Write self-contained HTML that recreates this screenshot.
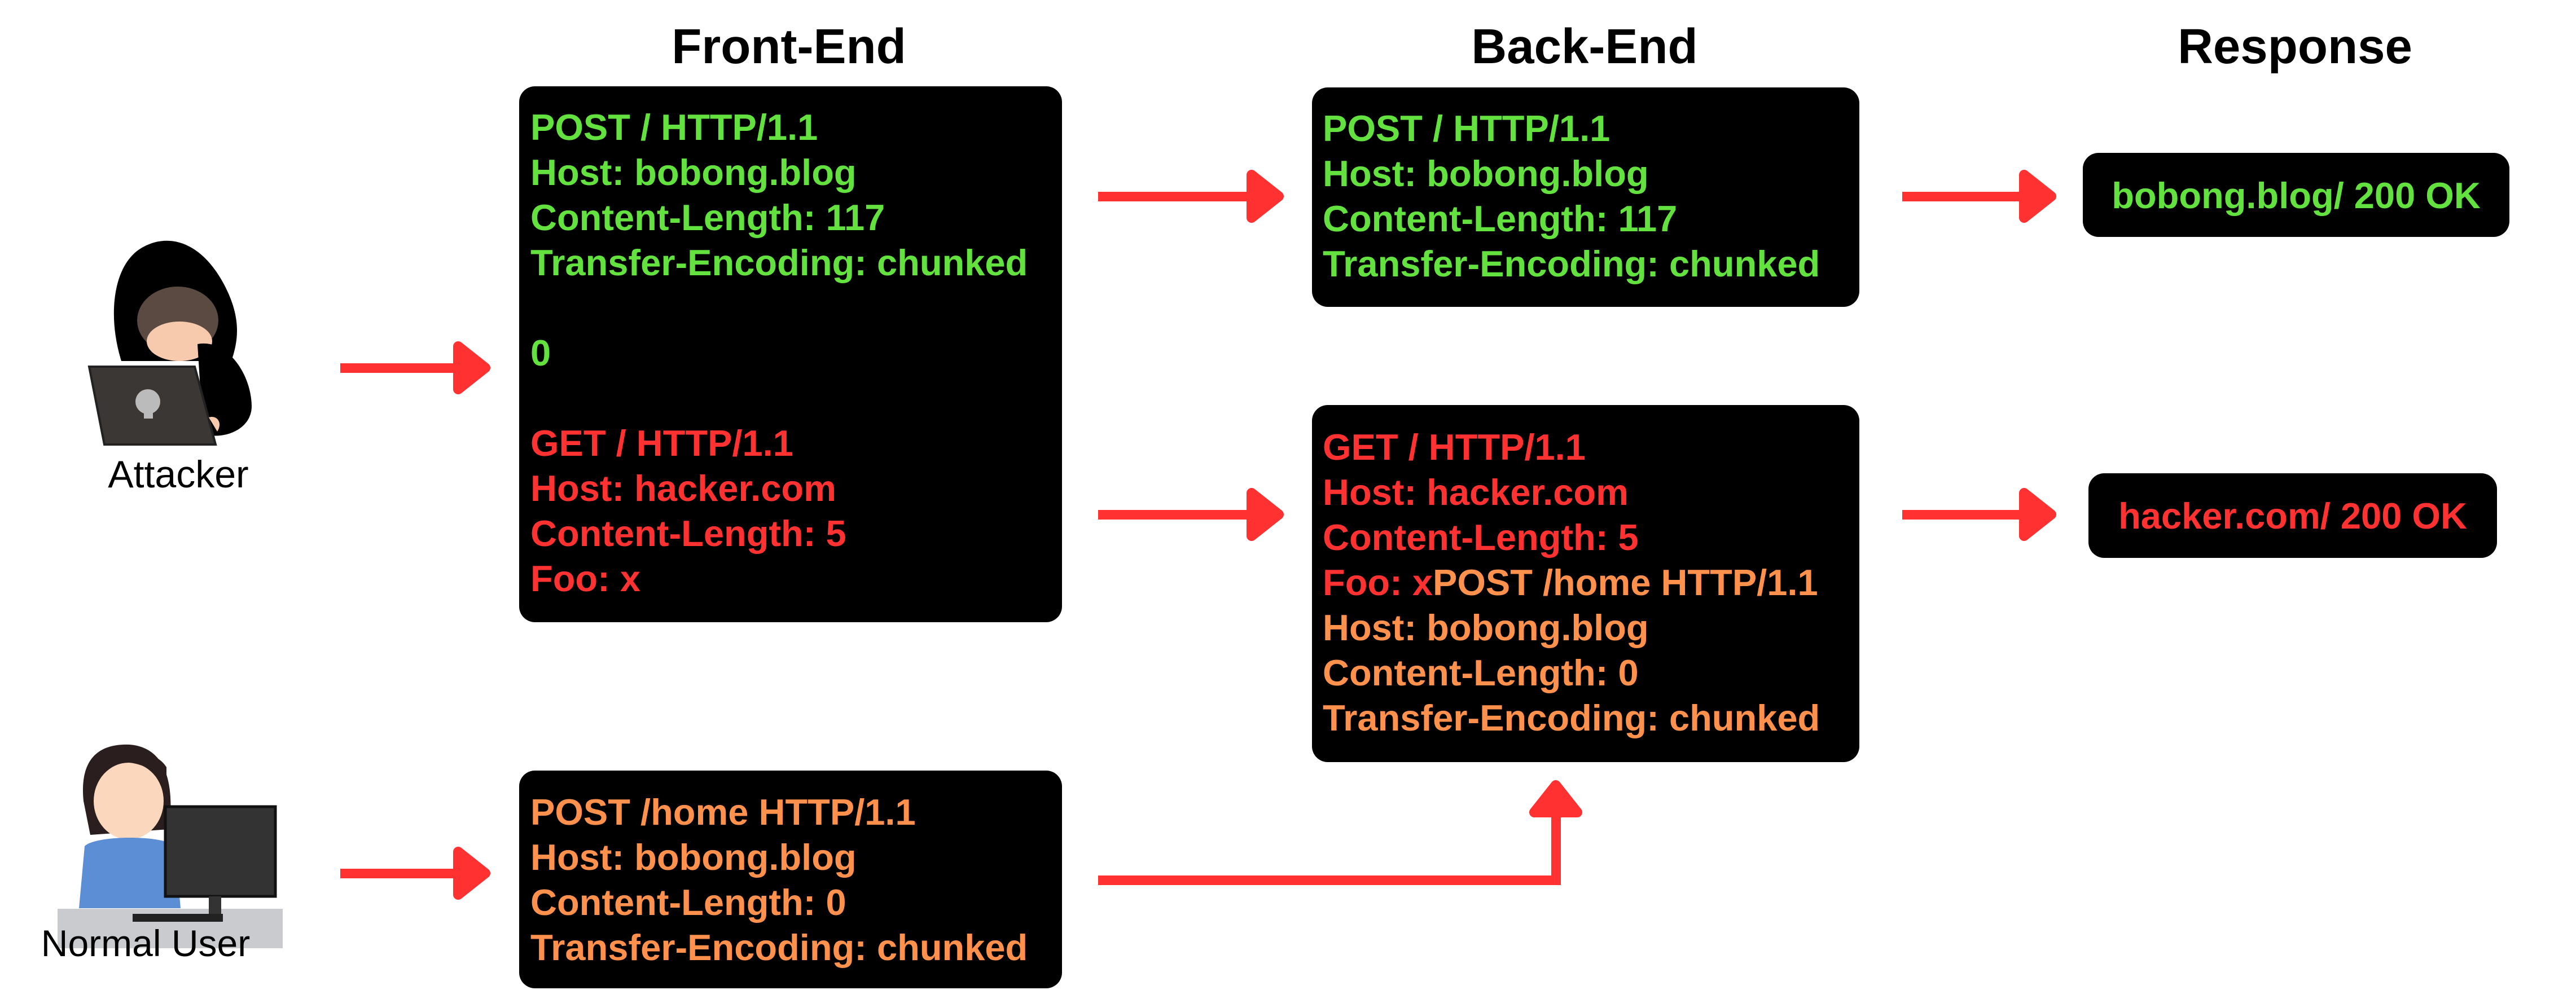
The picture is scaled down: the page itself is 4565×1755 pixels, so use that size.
<!DOCTYPE html>
<html><head><meta charset="utf-8"><style>
html,body{margin:0;padding:0;background:#fff;}
svg{display:block;}
text{font-family:"Liberation Sans",sans-serif;}
.t{font-weight:bold;font-size:65px;}
.g{fill:#63e23f}.r{fill:#ff3131}.o{fill:#ff914d}
.h{font-weight:bold;font-size:87px;fill:#000;text-anchor:middle}
</style></head><body>
<svg width="4565" height="1755" viewBox="0 0 4565 1755" xmlns="http://www.w3.org/2000/svg">
<defs>
<g id="ah"><polygon points="0,-38 48,0 0,38" fill="#ff3131" stroke="#ff3131" stroke-width="18" stroke-linejoin="round"/></g>
</defs>
<!-- titles -->
<text class="h" x="1398" y="112">Front-End</text>
<text class="h" x="2808" y="112">Back-End</text>
<text class="h" x="4067" y="112">Response</text>

<!-- front box 1 -->
<rect x="920" y="153" width="962" height="950" rx="28" fill="#000"/>
<g class="t">
<text class="g" x="940" y="248">POST / HTTP/1.1</text>
<text class="g" x="940" y="328">Host: bobong.blog</text>
<text class="g" x="940" y="408">Content-Length: 117</text>
<text class="g" x="940" y="488">Transfer-Encoding: chunked</text>
<text class="g" x="940" y="648">0</text>
<text class="r" x="940" y="808">GET / HTTP/1.1</text>
<text class="r" x="940" y="888">Host: hacker.com</text>
<text class="r" x="940" y="968">Content-Length: 5</text>
<text class="r" x="940" y="1048">Foo: x</text>
</g>
<!-- front box 2 -->
<rect x="920" y="1366" width="962" height="386" rx="28" fill="#000"/>
<g class="t">
<text class="o" x="940" y="1462">POST /home HTTP/1.1</text>
<text class="o" x="940" y="1542">Host: bobong.blog</text>
<text class="o" x="940" y="1622">Content-Length: 0</text>
<text class="o" x="940" y="1702">Transfer-Encoding: chunked</text>
</g>
<!-- back box 1 -->
<rect x="2325" y="155" width="970" height="389" rx="28" fill="#000"/>
<g class="t">
<text class="g" x="2344" y="250">POST / HTTP/1.1</text>
<text class="g" x="2344" y="330">Host: bobong.blog</text>
<text class="g" x="2344" y="410">Content-Length: 117</text>
<text class="g" x="2344" y="490">Transfer-Encoding: chunked</text>
</g>
<!-- back box 2 -->
<rect x="2325" y="718" width="970" height="633" rx="28" fill="#000"/>
<g class="t">
<text class="r" x="2344" y="815">GET / HTTP/1.1</text>
<text class="r" x="2344" y="895">Host: hacker.com</text>
<text class="r" x="2344" y="975">Content-Length: 5</text>
<text x="2344" y="1055"><tspan class="r">Foo: x</tspan><tspan class="o">POST /home HTTP/1.1</tspan></text>
<text class="o" x="2344" y="1135">Host: bobong.blog</text>
<text class="o" x="2344" y="1215">Content-Length: 0</text>
<text class="o" x="2344" y="1295">Transfer-Encoding: chunked</text>
</g>
<!-- responses -->
<rect x="3691" y="271" width="756" height="149" rx="28" fill="#000"/>
<text class="t g" x="4069" y="369" text-anchor="middle">bobong.blog/ 200 OK</text>
<rect x="3701" y="839" width="724" height="150" rx="28" fill="#000"/>
<text class="t r" x="4063" y="937" text-anchor="middle">hacker.com/ 200 OK</text>

<!-- arrows -->
<g fill="#ff3131">
<rect x="603" y="644" width="210" height="17"/><use href="#ah" x="812" y="652"/>
<rect x="603" y="1540" width="210" height="17"/><use href="#ah" x="812" y="1548"/>
<rect x="1946" y="340" width="280" height="17"/><use href="#ah" x="2218" y="348"/>
<rect x="1946" y="904" width="280" height="17"/><use href="#ah" x="2218" y="912"/>
<rect x="3371" y="340" width="220" height="17"/><use href="#ah" x="3587" y="348"/>
<rect x="3371" y="904" width="220" height="17"/><use href="#ah" x="3587" y="912"/>
<rect x="1946" y="1552" width="820" height="17"/>
<rect x="2749" y="1440" width="17" height="129"/>
<use href="#ah" transform="translate(2757,1440) rotate(-90)"/>
</g>

<!-- attacker icon -->
<g>
<path d="M215,640 C190,560 200,470 250,440 C300,410 360,430 400,510 C430,570 420,610 410,640 Z" fill="#000"/>
<ellipse cx="315" cy="568" rx="72" ry="60" fill="#5a4a42"/>
<ellipse cx="318" cy="605" rx="58" ry="35" fill="#f7c9ad"/>
<path d="M350,610 C400,600 445,660 446,720 C446,760 400,780 360,770 Z" fill="#000"/>
<polygon points="158,650 345,650 382,788 185,788" fill="#3b3735" stroke="#222" stroke-width="4"/>
<circle cx="262" cy="712" r="22" fill="#bbb"/>
<rect x="255" y="728" width="16" height="14" fill="#bbb"/>
<path d="M370,740 C385,735 395,750 385,765 Z" fill="#f7c9ad"/>
<text x="316" y="864" font-size="68" text-anchor="middle" fill="#000">Attacker</text>
</g>

<!-- normal user icon -->
<g>
<rect x="102" y="1611" width="399" height="70" fill="#c9cbce"/>
<path d="M148,1420 C140,1340 180,1318 230,1320 C290,1325 310,1380 300,1470 L160,1480 Z" fill="#2a1f1e"/>
<ellipse cx="228" cy="1420" rx="62" ry="68" fill="#fbd7bd"/>
<path d="M160,1380 C180,1340 260,1340 295,1390 L295,1360 C270,1320 180,1320 160,1360 Z" fill="#2a1f1e"/>
<path d="M140,1610 L150,1500 C170,1480 290,1480 310,1500 L320,1610 Z" fill="#5b8ed4"/>
<rect x="293" y="1430" width="195" height="159" fill="#333" stroke="#111" stroke-width="5"/>
<rect x="370" y="1589" width="22" height="35" fill="#333"/>
<rect x="235" y="1620" width="160" height="14" fill="#222"/>
<text x="258" y="1695" font-size="66" text-anchor="middle" fill="#000">Normal User</text>
</g>
</svg>
</body></html>
